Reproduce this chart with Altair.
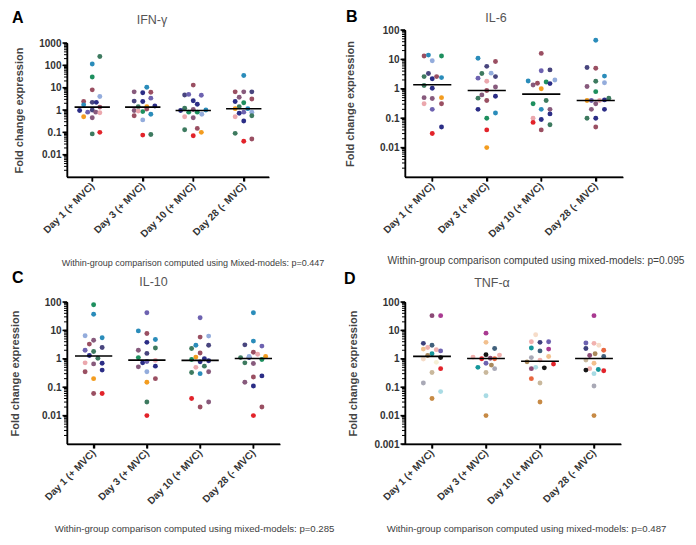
import altair as alt
import pandas as pd

FONT = "Liberation Sans"
CATEGORIES = ["Day 1 (+ MVC)", "Day 3 (+ MVC)", "Day 10 (+ MVC)", "Day 28 (- MVC)"]

PAL = {
    "dg": "#3d7a5f", "g": "#1d8f5e", "tb": "#2a8cba", "lb": "#93acdc", "nv": "#2b2d86",
    "sl": "#48457e", "pu": "#6d62b0", "mv": "#875a7c", "br": "#9a4f62", "pk": "#eba7ad",
    "or": "#f39c1f", "rd": "#e2232a",
    "mg": "#a93a91", "dm": "#8b4a76", "sn": "#3d3f7c", "st": "#40607b", "tl": "#15979b",
    "bk": "#161616", "pe": "#f2c08e", "lp": "#f1b1ae", "tn": "#c9b89c", "gy": "#a9a9b6",
    "lc": "#a9dbe4", "bn": "#c78a45", "co": "#e8663f", "bg": "#f6dcc8", "py": "#f5f0d5",
    "tk": "#a9895c",
}

A_val = [
    [250, 115, 30, 8, 4, 2.4, 2.2, 2.2, 1.7, 1.35, 0.95, 0.8, 1.0, 0.8, 0.75, 0.5, 0.45, 0.085, 0.1],
    [10.5, 6.5, 5.9, 6.2, 3.4, 2.5, 2.4, 1.5, 1.4, 1.4, 0.95, 0.85, 0.9, 1.1, 0.65, 0.55, 0.36, 0.075, 0.08],
    [13, 4.7, 5, 4.6, 2.6, 1.8, 1.2, 0.95, 0.8, 1.05, 0.8, 0.65, 1.0, 0.5, 0.45, 0.13, 0.15, 0.07, 0.1],
    [35, 6.5, 6.5, 6.5, 3.7, 3.1, 2.4, 2.1, 1.4, 1.15, 1.15, 0.8, 0.72, 0.8, 0.55, 0.5, 0.32, 0.09, 0.04, 0.05],
]
A_jit = [
    [0.15, 0, 0, 0, 0.15, -0.17, 0, 0.08, -0.17, 0.15, -0.25, -0.09, 0, 0.07, 0.15, -0.17, 0, 0, 0.15],
    [0.08, -0.17, 0, 0.16, 0.16, -0.17, 0, 0.24, -0.09, 0.08, -0.17, 0, -0.09, 0.08, 0.16, -0.17, 0, 0, 0.16],
    [0, -0.17, -0.09, 0.16, 0, 0.08, -0.17, -0.25, -0.09, 0, 0.08, 0.17, 0.25, -0.17, 0, -0.17, 0.08, 0, 0.16],
    [0, -0.17, 0, 0.16, -0.09, 0.16, -0.17, 0, -0.09, -0.17, 0.08, 0, -0.09, 0.16, 0.16, -0.17, 0, -0.17, 0, 0.16],
]
A_col = [
    ["dg", "tb", "g", "br", "lb", "br", "sl", "nv", "tb", "br", "nv", "pu", "sl", "mv", "pk", "or", "mv", "dg", "rd"],
    ["tb", "mv", "nv", "br", "pu", "sl", "nv", "nv", "dg", "or", "mv", "g", "pk", "br", "tb", "br", "lb", "rd", "dg"],
    ["br", "sl", "pu", "pu", "nv", "nv", "dg", "nv", "g", "mv", "g", "lb", "tb", "pk", "mv", "dg", "br", "rd", "or"],
    ["tb", "br", "mv", "sl", "mv", "br", "nv", "g", "dg", "or", "tb", "pu", "nv", "lb", "dg", "pk", "nv", "dg", "rd", "br"],
]
A_med = [1.35, 1.35, 0.95, 1.13]

B_val = [
    [13, 14, 9, 13, 2.6, 3.3, 2.2, 2.6, 2.4, 1.3, 1.05, 0.5, 0.47, 0.5, 0.31, 0.31, 0.2, 0.05, 0.03],
    [11, 8.5, 5.8, 3.3, 3.4, 2.3, 2.6, 1.8, 1.15, 0.88, 0.62, 0.56, 0.48, 0.4, 0.2, 0.15, 0.1, 0.04, 0.01],
    [16, 4.1, 4.4, 2.0, 1.85, 1.35, 1.55, 1.7, 1.5, 1.0, 0.31, 0.4, 0.2, 0.2, 0.14, 0.1, 0.072, 0.09, 0.06, 0.04],
    [45, 5.3, 5, 2.7, 1.8, 1.6, 1.2, 0.8, 0.48, 0.4, 0.4, 0.4, 0.31, 0.42, 0.2, 0.2, 0.1, 0.1, 0.05],
]
B_jit = [
    [-0.15, -0.07, 0, 0.17, -0.15, -0.07, 0, 0.08, 0.17, -0.15, 0, -0.15, 0, 0.17, -0.15, 0.17, 0, 0.17, 0],
    [-0.16, 0.16, 0, -0.09, 0.08, -0.16, 0.16, 0, 0.16, 0, -0.09, 0.16, -0.16, 0, -0.16, 0.16, 0, 0, 0],
    [0, 0, 0.16, 0.25, -0.24, -0.15, -0.07, 0.09, 0.16, 0, -0.15, 0.09, 0, 0.16, 0.16, -0.15, -0.15, 0, 0.16, 0],
    [0, -0.16, 0, 0.16, 0, 0.16, -0.16, 0, 0.24, -0.16, 0.07, -0.08, 0, 0.16, -0.08, 0.16, -0.16, 0, 0],
]
B_col = [
    ["br", "tb", "lb", "g", "dg", "sl", "nv", "br", "tb", "dg", "nv", "mv", "mv", "or", "pk", "br", "pu", "nv", "rd"],
    ["tb", "br", "sl", "dg", "lb", "pu", "sl", "pk", "mv", "br", "mv", "nv", "dg", "br", "nv", "tb", "g", "rd", "or"],
    ["br", "pu", "sl", "lb", "tb", "mv", "br", "g", "nv", "or", "g", "dg", "tb", "mv", "nv", "pk", "rd", "nv", "dg", "br"],
    ["tb", "sl", "br", "tb", "dg", "lb", "mv", "g", "dg", "or", "pk", "pu", "mv", "nv", "mv", "nv", "dg", "nv", "br"],
]
B_med = [1.37, 0.88, 0.66, 0.40]

C_val = [
    [80, 37, 6.5, 5.5, 4.5, 3.3, 2.5, 2.0, 1.8, 1.3, 1.05, 0.72, 0.66, 0.7, 0.35, 0.4, 0.2, 0.06, 0.06],
    [42, 9.6, 7.8, 4.8, 3.8, 2.4, 2.0, 1.55, 1.1, 0.72, 0.8, 0.88, 0.52, 0.55, 0.35, 0.2, 0.15, 0.03, 0.01],
    [28, 6.3, 5.8, 3.0, 3.0, 2.3, 1.6, 1.15, 0.95, 1.0, 0.78, 0.85, 0.55, 0.5, 0.33, 0.3, 0.35, 0.04, 0.02, 0.03],
    [42, 3.1, 4.2, 2.8, 1.7, 1.45, 1.1, 1.1, 1.2, 0.95, 0.72, 0.68, 1.2, 0.23, 0.25, 0.15, 0.11, 0.02, 0.01],
]
C_jit = [
    [0, 0, -0.16, 0.16, 0, -0.08, 0.16, -0.16, 0, -0.08, 0.08, -0.16, 0, 0.16, -0.16, 0.16, 0, 0, 0.16],
    [0, -0.16, 0, 0.16, 0, 0.16, -0.16, 0, -0.16, -0.08, 0, 0.16, -0.16, 0.16, 0, 0.16, 0, 0, 0],
    [0, 0.16, 0, -0.08, 0.16, -0.16, 0, -0.08, -0.16, 0.08, 0, 0.16, 0.08, -0.08, -0.16, 0, 0.16, -0.16, 0, 0.16],
    [0, -0.16, 0, 0.16, 0, 0.08, -0.24, -0.08, 0.23, 0.16, -0.16, 0, -0.08, 0, 0.16, -0.16, 0, 0.16, 0],
]
C_col = [
    ["g", "tb", "lb", "tb", "mv", "br", "sl", "pu", "dg", "nv", "dg", "pk", "mv", "nv", "br", "nv", "or", "br", "rd"],
    ["pu", "tb", "br", "tb", "nv", "dg", "mv", "sl", "g", "nv", "pu", "pk", "mv", "nv", "lb", "br", "or", "dg", "rd"],
    ["pu", "lb", "br", "tb", "sl", "dg", "br", "or", "g", "nv", "nv", "nv", "dg", "pk", "dg", "tb", "mv", "rd", "br", "mv"],
    ["tb", "sl", "tb", "pu", "br", "pk", "dg", "nv", "or", "g", "dg", "mv", "lb", "br", "nv", "mv", "nv", "br", "rd"],
]
C_med = [1.25, 0.90, 0.88, 1.03]

D_val = [
    [33, 33, 3.5, 3.0, 2.2, 2.5, 2.1, 1.9, 1.5, 1.3, 1.1, 0.98, 0.75, 0.45, 0.33, 0.14, 0.07, 0.04],
    [8, 3.8, 2.3, 1.15, 1.4, 1.35, 1.0, 1.05, 1.0, 0.5, 0.7, 0.6, 0.45, 0.33, 0.05, 0.01],
    [7, 4, 3.8, 4, 2.4, 2.2, 1.9, 1.1, 1.2, 0.9, 0.78, 0.5, 0.48, 0.65, 0.45, 0.2, 0.14, 0.03],
    [33, 3.6, 3.5, 3.0, 2.3, 2.0, 1.3, 1.5, 1.2, 0.9, 0.7, 0.45, 0.42, 0.4, 0.38, 0.3, 0.11, 0.01],
]
D_jit = [
    [0, 0.16, -0.16, 0, -0.16, -0.08, 0.08, 0.16, 0, -0.08, 0.16, -0.16, 0.08, 0.16, 0, -0.16, 0.16, 0],
    [0, 0, 0.16, -0.24, 0, 0.25, -0.08, 0.08, 0.16, -0.15, 0, 0.1, 0.16, 0, 0, 0],
    [-0.08, -0.16, 0, 0.16, -0.16, 0.16, 0, -0.16, 0.16, 0, -0.24, -0.08, 0.08, 0.25, -0.16, -0.16, 0, 0],
    [0, -0.15, 0, 0.09, -0.15, 0.18, -0.08, 0.02, 0.18, -0.15, 0, -0.08, 0.08, -0.15, 0.18, 0, 0, 0],
]
D_col = [
    ["dm", "mg", "sn", "st", "pe", "lp", "lp", "pu", "tl", "tk", "bk", "bg", "py", "rd", "tn", "gy", "lc", "bn"],
    ["mg", "pe", "st", "lp", "bk", "lp", "rd", "dm", "co", "tl", "pu", "tk", "gy", "tn", "lc", "bn"],
    ["bg", "lp", "sn", "pu", "tl", "mg", "st", "gy", "pe", "lp", "tk", "lc", "bk", "rd", "dm", "co", "tn", "bn"],
    ["mg", "pu", "lp", "bg", "sn", "co", "dm", "tk", "st", "tn", "pe", "lp", "tl", "bk", "rd", "lc", "gy", "bn"],
]
D_med = [1.22, 1.02, 0.82, 1.02]

LABEL_EXPR = "[" + ",".join("'%s'" % c for c in CATEGORIES) + "][datum.value - 1]"
MINOR = [k * 10.0 ** e for e in range(-3, 3) for k in range(2, 10)]
COLOR_SCALE = alt.Scale(domain=list(PAL.keys()), range=list(PAL.values()))


def one_text(txt):
    return pd.DataFrame({"t": [txt]})


def panel(vals, jits, cols, meds, letter, title, footer, ydom, yvals,
          w, h, ytop, letter_xy, title_d, ytitle_x, foot_dx, foot_dy, foot_fs):
    rows = []
    for gi, (gv, gj, gc) in enumerate(zip(vals, jits, cols)):
        for v, j, c in zip(gv, gj, gc):
            rows.append({"day": gi + 1, "jit": j, "value": v, "subject": c})
    df = pd.DataFrame(rows)
    mdf = pd.DataFrame({"day": [1, 2, 3, 4], "med": meds})
    tdf = pd.DataFrame({"m": [m for m in MINOR if ydom[0] < m < ydom[1]]})
    mjf = pd.DataFrame({"v": yvals})
    xt = pd.DataFrame({"d": [1, 2, 3, 4]})
    frame = pd.DataFrame({"xa": [0.5], "xb": [4.5], "ya": [ydom[0]], "yb": [ydom[1]]})

    xscale = alt.Scale(domain=[0.5, 4.5], nice=False, zero=False)
    yscale = alt.Scale(type="log", domain=ydom, nice=False, range=[h, ytop])

    xaxis = alt.Axis(values=[1, 2, 3, 4], labelExpr=LABEL_EXPR, title=None, grid=False,
                     domain=True, ticks=True, tickSize=4, tickWidth=1.5, domainWidth=1.5,
                     domainColor="black", tickColor="black",
                     labelAngle=-45, labelAlign="right", labelBaseline="middle",
                     labelFont=FONT, labelFontSize=10, labelFontWeight="bold",
                     labelColor="#333333", labelPadding=3, labelOverlap=False, labelFlush=False)
    yaxis = alt.Axis(values=yvals, format="~g", title="Fold change expression", grid=False,
                     domain=True, ticks=True, tickSize=4, tickWidth=1.5, domainWidth=1.5,
                     domainColor="black", tickColor="black",
                     labelFont=FONT, labelFontSize=10, labelFontWeight="bold",
                     labelColor="#333333", labelPadding=2, labelOverlap=False,
                     titleFont=FONT, titleFontSize=11, titleFontWeight="bold",
                     titleColor="#444444", titleX=ytitle_x, titleBaseline="bottom")

    X = lambda f: alt.X(f, scale=xscale, axis=xaxis)
    Y = lambda f: alt.Y(f, scale=yscale, axis=yaxis)

    # axis frame and ticks also drawn as filled marks (same place as the axis lines)
    xline = alt.Chart(frame).mark_rect(color="black").encode(
        x=X("xa:Q"), x2="xb:Q", y=alt.value(h - 0.5), y2=alt.value(h + 1.0))
    yline = alt.Chart(frame).mark_rect(color="black").encode(
        y=Y("ya:Q"), y2="yb:Q", x=alt.value(-0.5), x2=alt.value(1.0))
    yticks = alt.Chart(mjf).mark_tick(color="black", orient="horizontal", thickness=1.5,
                                      size=4.5, opacity=1).encode(y=Y("v:Q"), x=alt.value(-2.25))
    xticks = alt.Chart(xt).mark_tick(color="black", orient="vertical", thickness=1.5,
                                     size=4.5, opacity=1).encode(x=X("d:Q"), y=alt.value(h + 2.25))
    minor = alt.Chart(tdf).mark_tick(color="black", orient="horizontal", thickness=1, size=3,
                                     opacity=1).encode(y=Y("m:Q"), x=alt.value(-1.5))

    pts = alt.Chart(df).transform_calculate(pos="datum.day + datum.jit").mark_circle(
        size=24, opacity=1
    ).encode(
        x=X("pos:Q"),
        y=Y("value:Q"),
        color=alt.Color("subject:N", scale=COLOR_SCALE, legend=None),
    )
    med = alt.Chart(mdf).transform_calculate(
        x1="datum.day - 0.35", x2="datum.day + 0.35"
    ).mark_rule(color="black", strokeWidth=1.6).encode(x=X("x1:Q"), x2="x2:Q", y=Y("med:Q"))

    let = alt.Chart(one_text(letter)).mark_text(
        align="left", baseline="alphabetic", fontSize=16, fontWeight="bold", font=FONT, color="black"
    ).encode(x=alt.value(letter_xy[0]), y=alt.value(letter_xy[1]), text="t:N")
    ttl = alt.Chart(one_text(title)).mark_text(
        align="center", baseline="alphabetic", fontSize=12.5, font=FONT, color="#555555"
    ).encode(x=alt.value(w / 2 + title_d[0]), y=alt.value(title_d[1]), text="t:N")
    ftr = alt.Chart(one_text(footer)).mark_text(
        align="center", baseline="alphabetic", fontSize=foot_fs, font=FONT, color="#404040"
    ).encode(x=alt.value(w / 2 + foot_dx), y=alt.value(h + foot_dy), text="t:N")

    return alt.layer(pts, xline, yline, yticks, xticks, minor, med, let, ttl, ftr).properties(
        width=w, height=h)


pA = panel(A_val, A_jit, A_col, A_med, "A", "IFN-γ",
           "Within-group comparison computed using Mixed-models: p=0.447",
           [0.001, 1000], [0.01, 0.1, 1, 10, 100, 1000],
           202, 147, 13, (-55, -6.7), (-16, -6), -43, 25, 89, 9)
pB = panel(B_val, B_jit, B_col, B_med, "B", "IL-6",
           "Within-group comparison computed using mixed-models: p=0.095",
           [0.001, 100], [0.01, 0.1, 1, 10, 100],
           218, 147, 0, (-59, -8.3), (-18, -8.3), -50, 22, 87, 10.2)
pC = panel(C_val, C_jit, C_col, C_med, "C", "IL-10",
           "Within-group comparison computed using mixed-models: p=0.285",
           [0.001, 100], [0.01, 0.1, 1, 10, 100],
           213, 142, 0, (-55, -19), (-20, -16), -47, 21, 88, 9.6)
pD = panel(D_val, D_jit, D_col, D_med, "D", "TNF-α",
           "Within-group comparison computed using mixed-models: p=0.487",
           [0.001, 100], [0.001, 0.01, 0.1, 1, 10, 100],
           216, 142, 0, (-61, -18), (-21, -15), -47, 13.5, 88, 9.6)

chart = alt.concat(pA, pB, pC, pD, columns=2, spacing={"row": 2, "column": 8}).resolve_scale(
    x="independent", y="independent"
).properties(padding=0).configure_view(stroke=None)

chart.save("out.html", embed_options={"renderer": "svg", "actions": False})
